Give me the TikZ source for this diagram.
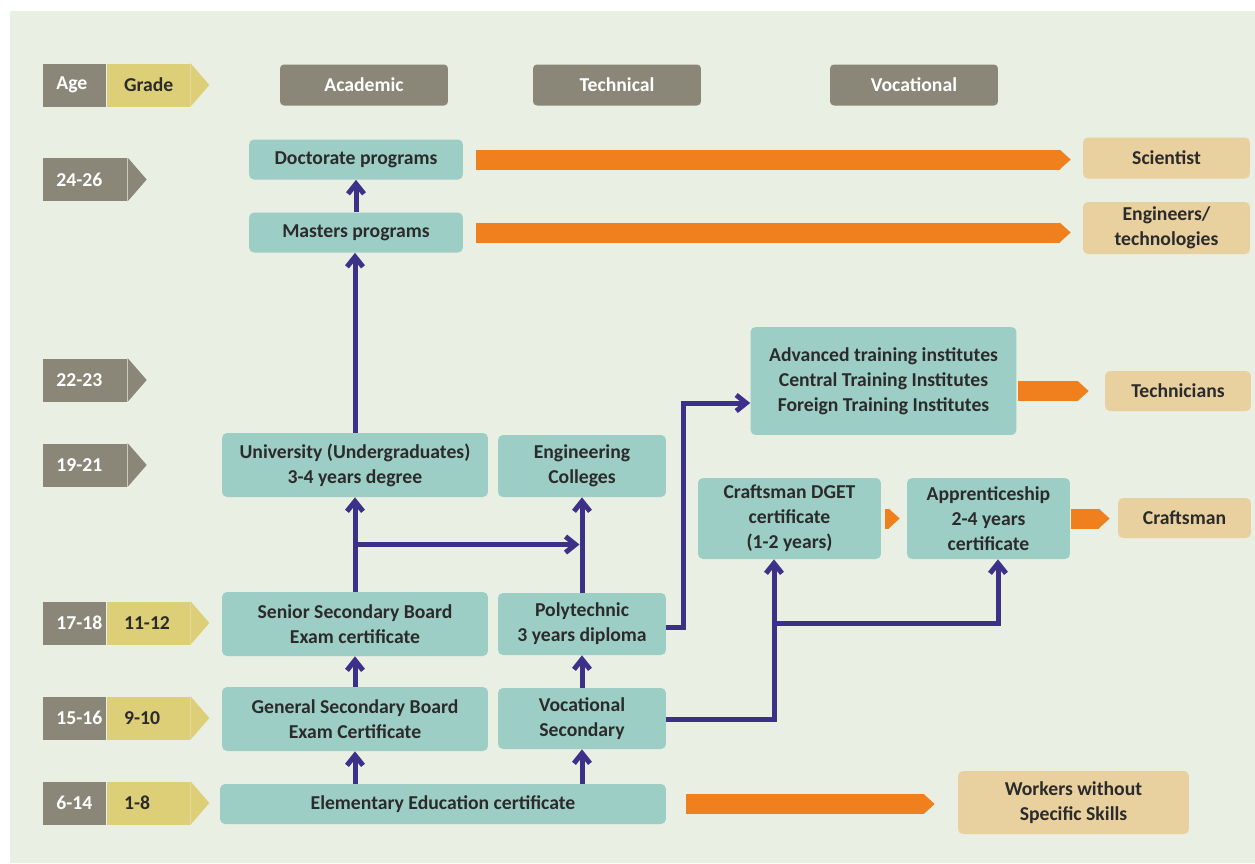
\documentclass[tikz,border=0pt]{standalone}
\usepackage{fontspec}
\setmainfont{Carlito}
\usepackage{xcolor}
\definecolor{pageBg}{HTML}{E9EFE2}
\definecolor{tagGray}{HTML}{8A8778}
\definecolor{tagYellow}{HTML}{DDCF77}
\definecolor{boxTeal}{HTML}{9DCEC6}
\definecolor{boxTan}{HTML}{E8D09F}
\definecolor{flowOrange}{HTML}{F0801E}
\definecolor{pathBlue}{HTML}{3D3088}
\definecolor{textDark}{HTML}{2B2B2B}
\usepackage{tikz}
\usetikzlibrary{positioning,calc,arrows.meta}
\tikzset{%
  stageBox/.style={%
    rectangle,
    rounded corners=0.1cm,
    fill=boxTeal,
    text=textDark,
    inner sep=0pt,
    align=center,
    font=\fontsize{11.2}{14.2}\selectfont\bfseries
  },
  careerBox/.style={%
    stageBox,
    fill=boxTan
  },
  headBox/.style={%
    stageBox,
    fill=tagGray,
    text=white,
    rounded corners=0.08cm,
    minimum width=3.36cm,
    minimum height=0.82cm
  },
  ageTag/.style={%
    rectangle,
    fill=tagGray,
    text=white,
    inner xsep=0.26cm,
    inner ysep=0pt,
    minimum height=0.86cm,
    align=left,
    font=\fontsize{11.2}{14.2}\selectfont\bfseries
  },
  gradeTag/.style={%
    ageTag,
    fill=tagYellow,
    text=textDark,
    inner xsep=0.34cm
  },
  pathArrow/.style={%
    -{Straight Barb[length=0.2cm,width=0.32cm]},
    line width=0.1cm,
    color=pathBlue
  },
  exitArrow/.style={%
    -{Triangle[length=0.22cm,width=0.4cm,line width=0pt]},
    line width=0.4cm,
    color=flowOrange
  }
}

\begin{document}
\begin{tikzpicture}[x=0.02cm,y=-0.02cm]
  \useasboundingbox (0,0) rectangle (1255,863);
  \fill[pageBg] (10,11) rectangle (1255,863);

  % age and grade column
  \node[ageTag, text width=0.74cm, anchor=west] (tHead) at (43,85) {Age};
  \node[gradeTag, text width=0.98cm, right=0pt of tHead] (gHead) {Grade};
  \node[ageTag, text width=1.16cm, anchor=west] (t2426) at (43,179.5) {\mbox{24-26}};
  \node[ageTag, text width=1.16cm, anchor=west] (t2223) at (43,380) {\mbox{22-23}};
  \node[ageTag, text width=1.16cm, anchor=west] (t1921) at (43,465) {\mbox{19-21}};
  \node[ageTag, text width=0.74cm, anchor=west] (t1718) at (43,623) {\mbox{17-18}};
  \node[gradeTag, text width=0.98cm, right=0pt of t1718] (g1112) {\mbox{11-12}};
  \node[ageTag, text width=0.74cm, anchor=west] (t1516) at (43,718) {\mbox{15-16}};
  \node[gradeTag, text width=0.98cm, right=0pt of t1516] (g910) {\mbox{9-10}};
  \node[ageTag, text width=0.74cm, anchor=west] (t614) at (43,803) {\mbox{6-14}};
  \node[gradeTag, text width=0.98cm, right=0pt of t614] (g18) {\mbox{1-8}};
  \foreach \t in {t2426,t2223,t1921}
    \fill[tagGray] (\t.north east) -- ($(\t.east)+(19,0)$) -- (\t.south east) -- cycle;
  \foreach \t in {gHead,g1112,g910,g18}
    \fill[tagYellow] (\t.north east) -- ($(\t.east)+(19,0)$) -- (\t.south east) -- cycle;

  % streams
  \node[headBox] (hAcad) at (364,85) {Academic};
  \node[headBox] (hTech) at (617,85) {Technical};
  \node[headBox] (hVoc) at (914,85) {Vocational};

  % education stages
  \node[stageBox, minimum width=4.28cm, minimum height=0.8cm] (doct) at (356,159.5) {Doctorate programs};
  \node[stageBox, minimum width=4.28cm, minimum height=0.8cm] (mast) at (356,232.5) {Masters programs};
  \node[stageBox, minimum width=5.32cm, minimum height=1.28cm] (uni) at (355,465) {University (Undergraduates)\\3-4 years degree};
  \node[stageBox, minimum width=3.36cm, minimum height=1.24cm] (eng) at (582,466) {Engineering\\Colleges};
  \node[stageBox, minimum width=5.32cm, minimum height=2.16cm] (adv) at (883.5,381) {Advanced training institutes\\Central Training Institutes\\Foreign Training Institutes};
  \node[stageBox, minimum width=3.66cm, minimum height=1.62cm] (dget) at (789.5,518.5) {Craftsman DGET\\certificate\\(1-2 years)};
  \node[stageBox, minimum width=3.26cm, minimum height=1.62cm] (appr) at (988.5,518.5) {Apprenticeship\\2-4 years\\certificate};
  \node[stageBox, minimum width=5.32cm, minimum height=1.28cm] (sen) at (355,624) {Senior Secondary Board\\Exam certificate};
  \node[stageBox, minimum width=3.36cm, minimum height=1.24cm] (poly) at (582,624) {Polytechnic\\3 years diploma};
  \node[stageBox, minimum width=5.32cm, minimum height=1.28cm] (gen) at (355,719) {General Secondary Board\\Exam Certificate};
  \node[stageBox, minimum width=3.36cm, minimum height=1.22cm] (vsec) at (582,718.5) {Vocational\\Secondary};
  \node[stageBox, minimum width=8.92cm, minimum height=0.8cm] (elem) at (443,804) {Elementary Education certificate};

  % careers
  \node[careerBox, minimum width=3.34cm, minimum height=0.82cm] (sci) at (1166.5,158) {Scientist};
  \node[careerBox, minimum width=3.34cm, minimum height=1.04cm] (engr) at (1166.5,228) {Engineers/\\technologies};
  \node[careerBox, minimum width=2.92cm, minimum height=0.8cm] (tech) at (1178,391) {Technicians};
  \node[careerBox, minimum width=2.66cm, minimum height=0.8cm] (craft) at (1184.5,518) {Craftsman};
  \node[careerBox, minimum width=4.62cm, minimum height=1.26cm] (work) at (1073.5,802.5) {Workers without\\Specific Skills};

  % progression
  \coordinate (senUp) at ($(sen.north)!0.5!(uni.south)$);
  \coordinate (vocUp) at ($(dget.south)+(-15.5,64)$);
  \draw[pathArrow] (mast.north) -- (doct.south);
  \draw[pathArrow] (uni.north) -- (mast.south -| uni.north);
  \draw[pathArrow] (sen.north) -- (uni.south);
  \draw[pathArrow, shorten >=0.05cm] (senUp) -- (senUp -| eng.south);
  \draw[pathArrow] (poly.north) -- (eng.south);
  \draw[pathArrow] (gen.north) -- (sen.south);
  \draw[pathArrow] (vsec.north) -- (poly.south);
  \draw[pathArrow] (elem.north -| gen.south) -- (gen.south);
  \draw[pathArrow] (elem.north -| vsec.south) -- (vsec.south);
  \draw[pathArrow] ($(poly.east)+(0,3)$) -- ++(17,0) |- ($(adv.west)+(0,22)$);
  \draw[pathArrow] ($(vsec.east)+(0,1)$) -| ($(dget.south)+(-15.5,0)$);
  \draw[pathArrow] (vocUp) -| ($(appr.south)+(9.5,0)$);

  % exits to work
  \draw[exitArrow, shorten <=0.26cm, shorten >=0.24cm] (doct.east) -- (doct.east -| sci.west);
  \draw[exitArrow, shorten <=0.26cm, shorten >=0.24cm] (mast.east) -- (mast.east -| engr.west);
  \draw[exitArrow, shorten <=0.02cm, shorten >=0.32cm] (adv.east |- tech.west) -- (tech.west);
  \draw[exitArrow, shorten <=0.08cm, shorten >=0.14cm] (dget.east) -- (appr.west);
  \draw[exitArrow, shorten <=0.02cm, shorten >=0.16cm] (appr.east) -- (appr.east -| craft.west);
  \draw[exitArrow, shorten <=0.4cm, shorten >=0.46cm] (elem.east) -- (elem.east -| work.west);
\end{tikzpicture}
\end{document}
